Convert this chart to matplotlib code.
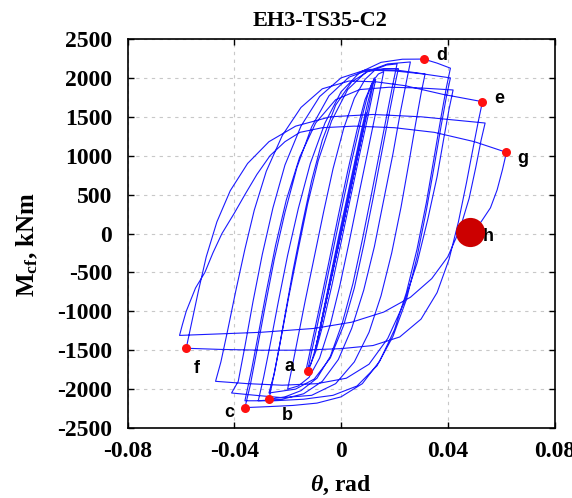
import numpy as np
import matplotlib
matplotlib.use("Agg")
import matplotlib.pyplot as plt

plt.rcParams['mathtext.fontset'] = 'custom'
plt.rcParams['mathtext.rm'] = 'Liberation Serif:bold'
plt.rcParams['mathtext.bf'] = 'Liberation Serif:bold'
plt.rcParams['mathtext.it'] = 'Liberation Serif:italic:bold'
plt.rcParams['axes.unicode_minus'] = False

# Rotation (rad) / moment (kNm) history, one list of (theta, M) vertices per half cycle
elastic = [(0.0, 0), (0.003, 480), (0.0012, 180), (-0.003, -460), (-0.0012, -170),
           (0.0058, 930), (0.0035, 550), (-0.0058, -900), (-0.0035, -520),
           (0.0085, 1370), (0.006, 960), (-0.0085, -1330), (-0.006, -920),
           (0.0095, 1550), (0.007, 1130), (-0.0095, -1480), (-0.007, -1060)]
c1_pos = [(-0.004, -560), (-0.001, -60), (0.002, 420), (0.005, 900), (0.008, 1380),
          (0.0100, 1680), (0.0115, 1880), (0.0125, 2000)]
c1_neg = [(0.0115, 1830), (0.0095, 1500), (0.0065, 1040), (0.003, 480), (-0.0005, -90),
          (-0.004, -640), (-0.0075, -1180), (-0.010, -1530), (-0.0115, -1700), (-0.0125, -1767)]
c2_pos = [(-0.0115, -1600), (-0.0095, -1280), (-0.0065, -800), (-0.003, -220), (0.0005, 360),
          (0.004, 930), (0.0075, 1450), (0.010, 1780), (0.0115, 1920), (0.013, 1980)]
c2_neg = [(0.012, 1820), (0.010, 1490), (0.007, 1020), (0.0035, 450), (0.0, -120),
          (-0.0035, -680), (-0.007, -1200), (-0.0095, -1520), (-0.0115, -1690), (-0.013, -1740)]
c3_pos = [(-0.011, -1420), (-0.008, -940), (-0.0045, -360), (-0.001, 230), (0.0025, 800),
          (0.006, 1330), (0.009, 1720), (0.012, 1960), (0.014, 2050), (0.016, 2080)]
c3_neg = [(0.0148, 1870), (0.0128, 1520), (0.010, 1050), (0.0065, 470), (0.003, -120),
          (-0.0005, -680), (-0.004, -1170), (-0.008, -1600), (-0.012, -1850), (-0.016, -1960),
          (-0.020, -2000)]
c4_pos = [(-0.0185, -1750), (-0.0165, -1400), (-0.0135, -880), (-0.010, -300), (-0.0065, 280),
          (-0.003, 830), (0.001, 1350), (0.005, 1740), (0.009, 1980), (0.013, 2110),
          (0.017, 2165), (0.021, 2180)]
c4_neg = [(0.0195, 1930), (0.0175, 1580), (0.0148, 1100), (0.0115, 520), (0.008, -80),
          (0.0045, -640), (0.0005, -1150), (-0.004, -1580), (-0.009, -1860), (-0.015, -2020),
          (-0.021, -2100), (-0.027, -2131)]
c5_pos = [(-0.0255, -1880), (-0.0235, -1530), (-0.021, -1050), (-0.018, -480), (-0.0145, 120),
          (-0.011, 680), (-0.007, 1200), (-0.002, 1650), (0.004, 1950), (0.010, 2080),
          (0.016, 2120), (0.0215, 2120)]
c5_neg = [(0.020, 1880), (0.018, 1530), (0.0152, 1030), (0.012, 450), (0.0085, -150),
          (0.005, -700), (0.001, -1180), (-0.004, -1600), (-0.010, -1870), (-0.017, -2000),
          (-0.027, -2050)]
c6_pos = [(-0.025, -1800), (-0.0225, -1350), (-0.0195, -800), (-0.016, -200), (-0.0125, 380),
          (-0.0085, 940), (-0.0035, 1450), (0.0025, 1850), (0.0095, 2080), (0.0175, 2180),
          (0.026, 2205)]
c6_neg = [(0.0245, 1950), (0.0222, 1550), (0.0195, 1030), (0.016, 430), (0.0125, -170),
          (0.0085, -730), (0.004, -1220), (-0.001, -1620), (-0.007, -1900), (-0.014, -2060),
          (-0.022, -2130), (-0.031, -2150)]
c7_pos = [(-0.029, -1850), (-0.0265, -1420), (-0.0235, -880), (-0.020, -280), (-0.016, 320),
          (-0.0115, 900), (-0.006, 1420), (0.0, 1820), (0.007, 2070), (0.015, 2200),
          (0.023, 2240), (0.031, 2242), (0.036, 2190), (0.041, 2125)]
c7_neg = [(0.0395, 1880), (0.0375, 1500), (0.035, 1000), (0.032, 400), (0.0285, -200),
          (0.0245, -760), (0.020, -1240), (0.0145, -1640), (0.008, -1930), (0.0, -2100),
          (-0.009, -2180), (-0.018, -2210), (-0.027, -2225), (-0.036, -2238)]
c8_pos = [(-0.034, -1950), (-0.0315, -1500), (-0.0285, -950), (-0.025, -330), (-0.021, 270),
          (-0.0165, 850), (-0.011, 1370), (-0.0045, 1770), (0.003, 2010), (0.011, 2110),
          (0.021, 2100), (0.0315, 2050)]
c8_neg = [(0.030, 1800), (0.028, 1420), (0.0255, 920), (0.0225, 340), (0.019, -250),
          (0.015, -800), (0.0105, -1270), (0.005, -1650), (-0.002, -1930), (-0.011, -2080),
          (-0.022, -2110), (-0.032, -2080), (-0.041, -2050)]
c9_pos = [(-0.0385, -1900), (-0.036, -1450), (-0.033, -880), (-0.0295, -270), (-0.0255, 330),
          (-0.021, 880), (-0.015, 1380), (-0.008, 1760), (0.0, 2000), (0.009, 2100),
          (0.02, 2090), (0.031, 2050), (0.041, 2000)]
c9_neg = [(0.0395, 1760), (0.0375, 1380), (0.035, 880), (0.032, 300), (0.0285, -300),
          (0.0245, -850), (0.0195, -1320), (0.0135, -1700), (0.006, -1960), (-0.003, -2080),
          (-0.014, -2130), (-0.025, -2150), (-0.036, -2150)]
c10_pos = [(-0.0335, -1750), (-0.031, -1300), (-0.028, -750), (-0.0245, -150), (-0.0205, 430),
           (-0.0155, 980), (-0.0095, 1420), (-0.002, 1720), (0.007, 1850), (0.018, 1880),
           (0.030, 1870), (0.042, 1845)]
c10_neg = [(0.0405, 1600), (0.0385, 1220), (0.036, 730), (0.0325, 180), (0.0285, -380),
           (0.0235, -900), (0.0175, -1350), (0.0105, -1680), (0.002, -1860), (-0.009, -1930),
           (-0.022, -1950), (-0.035, -1930), (-0.047, -1900)]
c11_pos = [(-0.045, -1650), (-0.0425, -1250), (-0.0395, -750), (-0.036, -200), (-0.0325, 300),
           (-0.028, 800), (-0.022, 1260), (-0.015, 1620), (-0.007, 1860), (0.003, 1960),
           (0.013, 1950), (0.024, 1900), (0.038, 1790), (0.053, 1694)]
c11_neg = [(0.0515, 1450), (0.0495, 1100), (0.047, 650), (0.044, 150), (0.0405, -330),
           (0.036, -760), (0.030, -1100), (0.022, -1330), (0.012, -1440), (0.0, -1480),
           (-0.015, -1500), (-0.03, -1500), (-0.045, -1490), (-0.058, -1475)]
c12_pos = [(-0.056, -1150), (-0.0535, -750), (-0.0505, -300), (-0.0465, 150), (-0.0415, 550),
           (-0.035, 900), (-0.027, 1180), (-0.017, 1380), (-0.004, 1500), (0.012, 1530),
           (0.030, 1500), (0.054, 1420)]
c12_neg = [(0.0525, 1200), (0.0505, 850), (0.048, 450), (0.0445, 50), (0.040, -300),
           (0.034, -580), (0.026, -820), (0.016, -1010), (0.004, -1140), (-0.010, -1220),
           (-0.030, -1270), (-0.045, -1290), (-0.0605, -1310)]
c13_pos = [(-0.0595, -1180), (-0.058, -1000), (-0.0545, -700), (-0.051, -500), (-0.048, -250),
           (-0.0446, 0), (-0.040, 260), (-0.036, 500), (-0.0315, 760), (-0.0266, 1000),
           (-0.021, 1180), (-0.0154, 1300), (-0.007, 1360), (0.005, 1380), (0.020, 1360),
           (0.035, 1300), (0.050, 1180), (0.062, 1043)]
final_unload = [(0.0605, 820), (0.0585, 560), (0.056, 330), (0.0525, 150), (0.0483, 15)]

history = [elastic, c1_pos, c1_neg, c2_pos, c2_neg, c3_pos, c3_neg, c4_pos, c4_neg,
           c5_pos, c5_neg, c6_pos, c6_neg, c7_pos, c7_neg, c8_pos, c8_neg,
           c9_pos, c9_neg, c10_pos, c10_neg, c11_pos, c11_neg, c12_pos, c12_neg,
           c13_pos, final_unload]

# Damage-state points
point_labels = ['a', 'b', 'c', 'd', 'e', 'f', 'g']
point_theta = [-0.0125, -0.027, -0.036, 0.031, 0.053, -0.058, 0.062]
point_moment = [-1767, -2131, -2238, 2242, 1694, -1475, 1043]
label_offsets = [(-18, 4), (18, -16), (-16, -5), (18, 4), (17, 3), (11, -20), (16, -6)]
end_label = 'h'
end_theta = 0.0483
end_moment = 15

x_ticks = [-0.08, -0.04, 0, 0.04, 0.08]
x_ticklabels = ['-0.08', '-0.04', '0', '0.04', '0.08']
y_ticks = [-2500, -2000, -1500, -1000, -500, 0, 500, 1000, 1500, 2000, 2500]

fig = plt.figure(figsize=(5.72, 4.98), dpi=100)
ax = fig.add_axes([127.5 / 572, 1 - 428 / 498, 427 / 572, 389 / 498])

pts = np.array([p for seg in history for p in seg], dtype=float)
ax.plot(pts[:, 0], pts[:, 1], color='#1a1aff', lw=0.8, zorder=3)

ax.plot(point_theta, point_moment, 'o', color='#ff1010', ms=6.5, mec='none', zorder=4)
sans = dict(family='Liberation Sans', fontweight='bold', fontsize=13)
for lab, tx, my, off in zip(point_labels, point_theta, point_moment, label_offsets):
    ax.annotate(lab, (tx, my), xytext=off, textcoords='offset pixels',
                ha='center', va='center', zorder=5, **sans)
ax.annotate(end_label, (end_theta, end_moment), xytext=(18, -4), textcoords='offset pixels',
            ha='center', va='center', zorder=4, **sans)
ax.plot([end_theta], [end_moment], 'o', color='#cc0000', ms=21, mec='none', zorder=6)

ax.set_xlim(-0.08, 0.08)
ax.set_ylim(-2500, 2500)
ax.set_xticks(x_ticks)
ax.set_xticklabels(x_ticklabels)
ax.set_yticks(y_ticks)
ax.tick_params(direction='in', top=True, right=True, length=4, width=1)
ax.tick_params(axis='x', pad=9)
ax.tick_params(axis='y', pad=11)
for lab in ax.get_xticklabels() + ax.get_yticklabels():
    lab.set_family('Liberation Serif')
    lab.set_fontweight('bold')
    lab.set_fontsize(17)
ax.grid(True, color='#c8c8c8', ls=(0, (3, 4)), lw=0.8)
ax.set_axisbelow(True)
for s in ax.spines.values():
    s.set_linewidth(1.2)

serif = dict(family='Liberation Serif', fontweight='bold')
fig.text(320 / 572, 1 - 21 / 498, 'EH3-TS35-C2', ha='center', va='center', fontsize=16, **serif)
fig.text(341 / 572, 1 - 485 / 498, r'$\theta$, rad', ha='center', va='center', fontsize=17, **serif)
fig.text(27 / 572, 1 - 245 / 498, r'M$_\mathbf{cf}$, kNm', ha='center', va='center',
         rotation=90, fontsize=18, **serif)

fig.savefig('out.png', dpi=100)
